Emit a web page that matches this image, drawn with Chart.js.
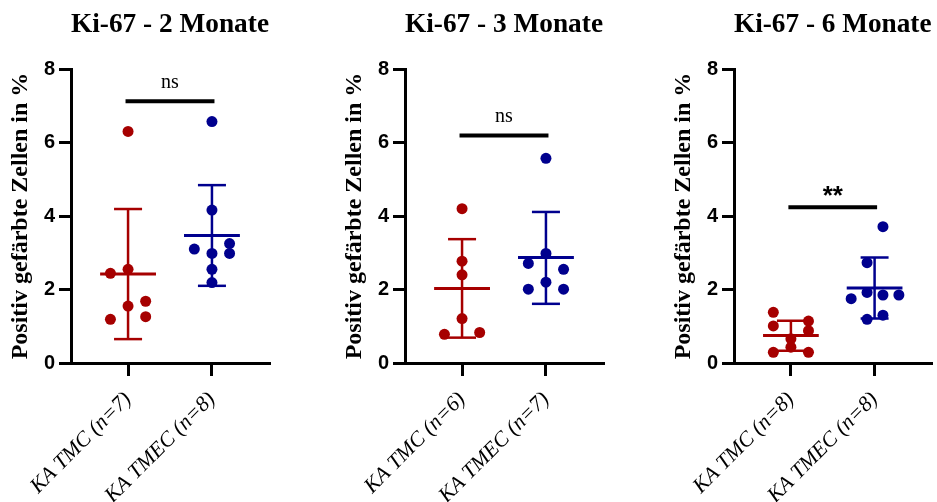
<!DOCTYPE html>
<html>
<head>
<meta charset="utf-8">
<script src="https://cdn.jsdelivr.net/npm/chart.js@4.4.0/dist/chart.umd.min.js"></script>
<style>
html,body{margin:0;padding:0;background:#fff;width:937px;height:502px;overflow:hidden;position:relative;}
canvas{position:absolute;top:0;}
</style>
</head>
<body>
<canvas id="c1" width="300" height="502" style="left:0px"></canvas>
<canvas id="c2" width="300" height="502" style="left:334px"></canvas>
<canvas id="c3" width="274" height="502" style="left:663px"></canvas>
<script>
// ---------- data ----------
const titles = ['Ki-67 - 2 Monate', 'Ki-67 - 3 Monate', 'Ki-67 - 6 Monate'];
const yAxisTitle = 'Positiv gefärbte Zellen in %';
const yTicks = [0, 2, 4, 6, 8];

const labels2M = ['KA TMC (n=7)', 'KA TMEC (n=8)'];
const labels3M = ['KA TMC (n=6)', 'KA TMEC (n=7)'];
const labels6M = ['KA TMC (n=8)', 'KA TMEC (n=8)'];

// individual values
const tmc2M  = [6.30, 2.44, 2.55, 1.68, 1.55, 1.26, 1.19];
const tmec2M = [6.57, 4.16, 3.10, 3.25, 2.98, 2.98, 2.55, 2.19];
const tmc3M  = [4.20, 2.77, 2.40, 1.21, 0.78, 0.83];
const tmec3M = [5.57, 2.98, 2.71, 2.55, 2.20, 2.01, 2.01];
const tmc6M  = [1.38, 1.01, 1.14, 0.88, 0.66, 0.43, 0.29, 0.29];
const tmec6M = [3.71, 2.73, 1.75, 1.92, 1.85, 1.85, 1.19, 1.30];

// mean, lower (mean-SD), upper (mean+SD)
const tmcMean  = [2.42, 2.03, 0.75];
const tmcLow   = [0.65, 0.69, 0.33];
const tmcHigh  = [4.19, 3.37, 1.15];
const tmecMean = [3.47, 2.87, 2.04];
const tmecLow  = [2.10, 1.61, 1.21];
const tmecHigh = [4.84, 4.11, 2.87];

// significance
const sigLevel = [7.12, 6.19, 4.24];
const sigText  = ['ns', 'ns', '**'];

// ---------- layout / style (not data) ----------
const jitter = {
  tmc2M:  [0, -0.21, 0, 0.21, 0, 0.21, -0.21],
  tmec2M: [0, 0, -0.21, 0.21, 0, 0.21, 0, 0],
  tmc3M:  [0, 0, 0, 0, -0.21, 0.21],
  tmec3M: [0, 0, -0.21, 0.21, 0, -0.21, 0.21],
  tmc6M:  [-0.21, -0.21, 0.21, 0.21, 0, 0, -0.21, 0.21],
  tmec6M: [0.10, -0.09, -0.28, -0.09, 0.10, 0.29, -0.09, 0.10]
};
const RED = '#A60000';
const BLUE = '#00008E';
const SERIF = "'Liberation Serif', 'Times New Roman', serif";
const SANS = "'Liberation Sans', Arial, sans-serif";

function seg(x1, y1, x2, y2, color, width) {
  return {
    data: [{x: x1, y: y1}, {x: x2, y: y2}],
    showLine: true, borderColor: color, borderWidth: width,
    pointRadius: 0, borderCapStyle: 'butt', order: 5
  };
}

function groupDatasets(values, jit, cx, mean, lo, hi, color) {
  return [
    {
      data: values.map((v, i) => ({x: cx + jit[i], y: v})),
      showLine: false, pointRadius: 5.5, pointBackgroundColor: color,
      pointBorderWidth: 0, pointBorderColor: color, order: 1
    },
    seg(cx - 0.333, mean, cx + 0.333, mean, color, 3),
    seg(cx, lo, cx, hi, color, 2.5),
    seg(cx - 0.167, hi, cx + 0.167, hi, color, 2.5),
    seg(cx - 0.167, lo, cx + 0.167, lo, color, 2.5)
  ];
}

const sigTextPlugin = {
  id: 'sigText',
  afterDatasetsDraw(chart, args, opts) {
    const {ctx} = chart;
    const x = chart.scales.x, y = chart.scales.y;
    ctx.save();
    ctx.font = opts.font;
    ctx.fillStyle = '#000';
    ctx.textAlign = 'center';
    ctx.textBaseline = 'alphabetic';
    ctx.fillText(opts.text, x.getPixelForValue(1.5), y.getPixelForValue(opts.level) - opts.lift);
    ctx.restore();
  }
};

function makeChart(id, idx, catLabels, tmcVals, tmcJit, tmecVals, tmecJit, padRight) {
  const datasets = [
    ...groupDatasets(tmcVals, tmcJit, 1, tmcMean[idx], tmcLow[idx], tmcHigh[idx], RED),
    ...groupDatasets(tmecVals, tmecJit, 2, tmecMean[idx], tmecLow[idx], tmecHigh[idx], BLUE),
    seg(0.97, sigLevel[idx], 2.03, sigLevel[idx], '#000', 4)
  ];
  const isStars = sigText[idx] === '**';
  return new Chart(document.getElementById(id), {
    type: 'scatter',
    data: {datasets},
    plugins: [sigTextPlugin],
    options: {
      responsive: false,
      animation: false,
      layout: {padding: {left: 6, top: 0, right: padRight, bottom: 0}},
      plugins: {
        legend: {display: false},
        tooltip: {enabled: false},
        title: {
          display: true, text: titles[idx], fullSize: false, color: '#000',
          font: {family: SERIF, size: 27.5, weight: 'bold'},
          padding: {top: 8.5, bottom: 27.5}
        },
        sigText: {
          text: sigText[idx], level: sigLevel[idx],
          font: isStars ? 'bold 26px ' + SANS : '20px ' + SERIF,
          lift: isStars ? 3 : 13.5
        }
      },
      scales: {
        x: {
          type: 'linear', min: 0.32, max: 2.68,
          afterBuildTicks: s => { s.ticks = [{value: 1}, {value: 2}]; },
          ticks: {
            callback: v => catLabels[Math.round(v) - 1],
            autoSkip: false, maxRotation: 45, minRotation: 45,
            color: '#000', padding: 11,
            font: {family: SERIF, size: 21.5, style: 'italic'}
          },
          grid: {drawOnChartArea: false, tickLength: 13, color: '#000', lineWidth: 3},
          border: {color: '#000', width: 3},
          afterFit: s => { s.height = 139; s.paddingLeft = 0; s.paddingRight = 0; }
        },
        y: {
          min: 0, max: 8,
          afterBuildTicks: s => { s.ticks = yTicks.map(v => ({value: v})); },
          ticks: {color: '#000', padding: 4, font: {family: SANS, size: 20, weight: 'bold'}},
          grid: {drawOnChartArea: false, tickLength: 12, color: '#000', lineWidth: 3},
          border: {color: '#000', width: 3},
          title: {
            display: true, text: yAxisTitle, color: '#000',
            font: {family: SERIF, size: 24, weight: 'bold'},
            padding: {top: 0, bottom: 0}
          },
          afterFit: s => { s.width = 65; s.paddingTop = 0; s.paddingBottom = 0; }
        }
      }
    }
  });
}

makeChart('c1', 0, labels2M, tmc2M, jitter.tmc2M, tmec2M, jitter.tmec2M, 31);
makeChart('c2', 1, labels3M, tmc3M, jitter.tmc3M, tmec3M, jitter.tmec3M, 31);
makeChart('c3', 2, labels6M, tmc6M, jitter.tmc6M, tmec6M, jitter.tmec6M, 5);
</script>
</body>
</html>
